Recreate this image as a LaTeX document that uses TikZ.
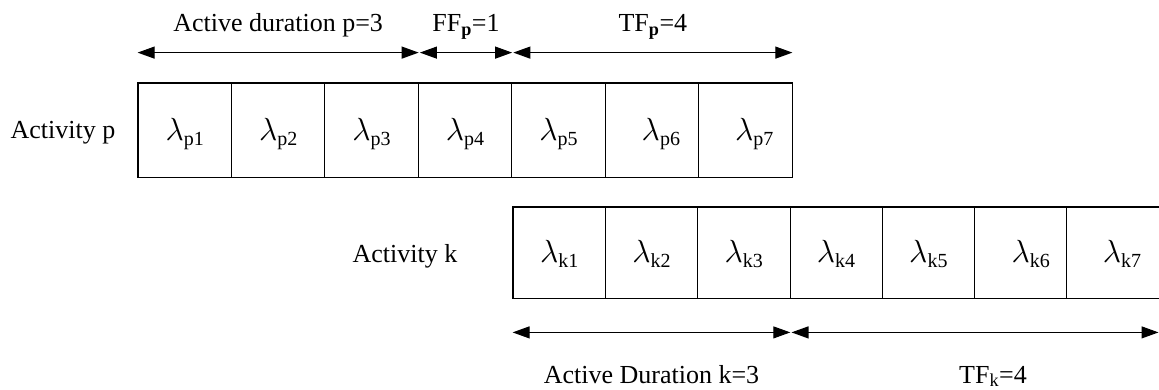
\RequirePackage{fix-cm}
\documentclass[tikz,border=0pt]{standalone}
\usepackage{fontspec}
\setmainfont{Liberation Serif}
\usetikzlibrary{arrows.meta,calc}
\newcommand{\lamlab}[1]{{\fontsize{32}{32}\selectfont$\lambda$}\raisebox{-5pt}{\fontsize{20}{20}\selectfont #1}}
\begin{document}
\begin{tikzpicture}[x=1pt,y=-1pt,
  every node/.style={font=\fontsize{26}{31}\selectfont, inner sep=0pt},
  cellp/.style={draw, line width=0.8pt, minimum width=93.43pt, minimum height=94pt},
  cellk/.style={draw, line width=0.8pt, minimum width=92.3pt, minimum height=91pt},
  outer/.style={line width=1.4pt},
  dim/.style={line width=1.1pt, {Triangle[length=17pt,width=12pt]}-{Triangle[length=17pt,width=12pt]}},
  lab/.style={anchor=base},
  lam/.style={anchor=base}
]
\useasboundingbox (0,0) rectangle (1159,389);
% Activity p
\foreach \i/\s in {1/0,2/0,3/0,4/0,5/0,6/9,7/9}{
  \node[cellp] (p\i) at ({138+(\i-0.5)*93.43},130) {};
  \node[lam] (lp\i) at ([xshift=\s pt,yshift=-10pt]p\i.center) {\lamlab{p\i}};
}
\draw[outer] (p1.north west) rectangle (p7.south east);
% Activity k
\foreach \i/\s in {1/0,2/0,3/0,4/0,5/0,6/10,7/9}{
  \node[cellk] (k\i) at ({513+(\i-0.5)*92.3},252.5) {};
  \node[lam] (lk\i) at ([xshift=\s pt,yshift=-10pt]k\i.center) {\lamlab{k\i}};
}
\draw[outer] (k1.north west) rectangle (k7.south east);
% labels
\node[lab] (actp) at (63,138) {Activity p};
\node[lab] (actk) at (405,262) {Activity k};
% top dimension arrows
\coordinate (pa) at ([yshift=30pt]p1.north west);
\coordinate (pb) at ([yshift=30pt]p3.north east);
\coordinate (pc) at ([yshift=30pt,xshift=2pt]p4.north west);
\coordinate (pd) at ([yshift=30pt]p4.north east);
\coordinate (pe) at ([yshift=30pt,xshift=2pt]p5.north west);
\coordinate (pf) at ([yshift=30pt]p7.north east);
\draw[dim] (pa) -- (pb);
\draw[dim] (pc) -- (pd);
\draw[dim] (pe) -- (pf);
\node[lab] (l1) at ($(pa)!0.5!(pb)+(0,-21)$) {Active duration p=3};
\node[lab] (l2) at ($(pc)!0.5!(pd)+(0,-21)$) {FF\textsubscript{\textbf{p}}=1};
\node[lab] (l3) at ($(pe)!0.5!(pf)+(0,-21)$) {TF\textsubscript{\textbf{p}}=4};
% bottom dimension arrows
\coordinate (ka) at ([yshift=-34pt]k1.south west);
\coordinate (kb) at ([yshift=-34pt]k3.south east);
\coordinate (kc) at ([yshift=-34pt,xshift=2pt]k4.south west);
\coordinate (kd) at ([yshift=-34pt,xshift=-1pt]k7.south east);
\draw[dim] (ka) -- (kb);
\draw[dim] (kc) -- (kd);
\node[lab] (l4) at ($(ka)!0.5!(kb)+(0,51)$) {Active Duration k=3};
\node[lab] (l5) at (993,383) {TF\textsubscript{k}=4};
\end{tikzpicture}
\end{document}
